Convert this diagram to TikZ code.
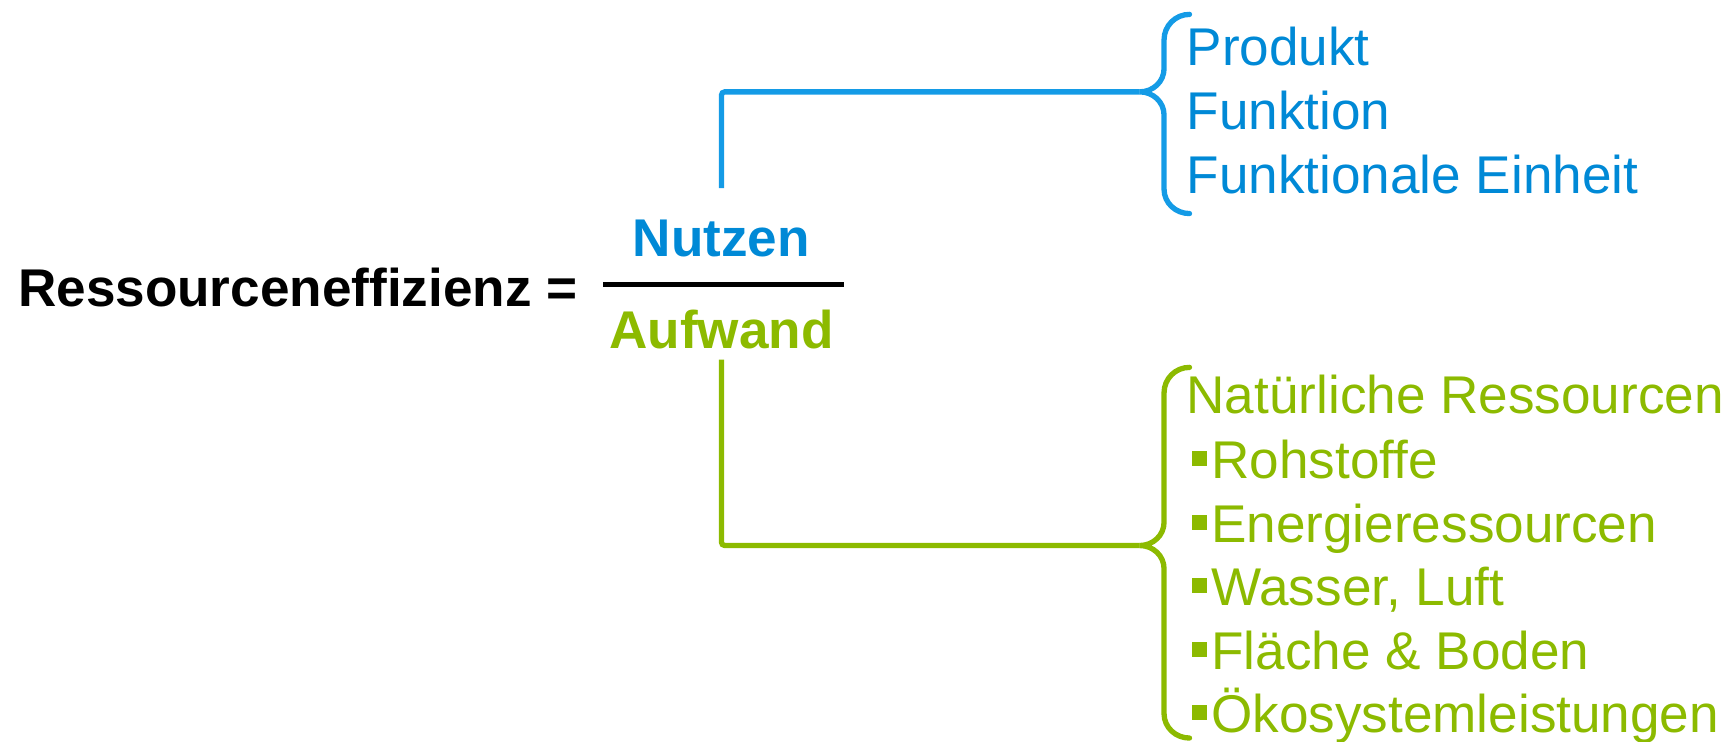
\documentclass[tikz,border=0pt]{standalone}
\usepackage{fontspec}
\setmainfont{Liberation Sans}
\definecolor{nblue}{RGB}{0,137,214}
\definecolor{lblue}{RGB}{20,155,230}
\definecolor{ngreen}{RGB}{140,186,0}
\newcommand{\mybullet}{\rule[0.23em]{0.28em}{0.28em}\hspace{0.08em}}
\tikzset{
  txt/.style={inner sep=0pt, anchor=base west, font=\fontsize{24pt}{28pt}\selectfont},
  boldtxt/.style={inner sep=0pt, anchor=base, font=\fontsize{24pt}{28pt}\selectfont\bfseries},
  conn/.style={line width=2.4pt, rounded corners=1.5pt},
  bracestyle/.style={line width=2.4pt, line cap=round},
}
\begin{document}
\begin{tikzpicture}[x=0.5pt,y=-0.5pt]
\useasboundingbox (0,0) rectangle (1568,670);
% left side
\node[boldtxt, anchor=base west] (lhs) at (16,277) {Ressourceneffizienz =};
\coordinate (fl) at (545,257);
\coordinate (fr) at (763,257);
\draw[line width=2.5pt] (fl) -- (fr);
\node[boldtxt, text=nblue] (nutzen) at (652,232) {Nutzen};
\node[boldtxt, text=ngreen] (aufwand) at (652,315) {Aufwand};
% blue branch
\coordinate (bstart) at (652,170);
\coordinate (btip) at (1030,83);
\draw[bracestyle, lblue] (1075,13) to[out=180,in=90] (1052,36) -- (1052,62)
   to[out=-90,in=0] (btip) to[out=0,in=90] (1052,104) -- (1052,171)
   to[out=-90,in=180] (1075,193);
\draw[conn, lblue] (bstart) |- (btip);
\node[txt, text=nblue] (p1) at (1072,59) {Produkt};
\node[txt, text=nblue] (p2) at (1072,117) {Funktion};
\node[txt, text=nblue] (p3) at (1072,175) {Funktionale Einheit};
% green branch
\coordinate (gstart) at (652,325);
\coordinate (gtip) at (1030,493);
\draw[bracestyle, ngreen] (1075,332) to[out=180,in=90] (1052,355) -- (1052,472)
   to[out=-90,in=0] (gtip) to[out=0,in=90] (1052,514) -- (1052,645)
   to[out=-90,in=180] (1075,667);
\draw[conn, ngreen] (gstart) |- (gtip);
\node[txt, text=ngreen] (g0) at (1072,374) {Natürliche Ressourcen};
\node[txt, text=ngreen] (g1) at (1077,432) {\mybullet Rohstoffe};
\node[txt, text=ngreen] (g2) at (1077,490) {\mybullet Energieressourcen};
\node[txt, text=ngreen] (g3) at (1077,547) {\mybullet Wasser, Luft};
\node[txt, text=ngreen] (g4) at (1077,605) {\mybullet Fläche \& Boden};
\node[txt, text=ngreen] (g5) at (1077,662) {\mybullet Ökosystemleistungen};
\end{tikzpicture}
\end{document}
